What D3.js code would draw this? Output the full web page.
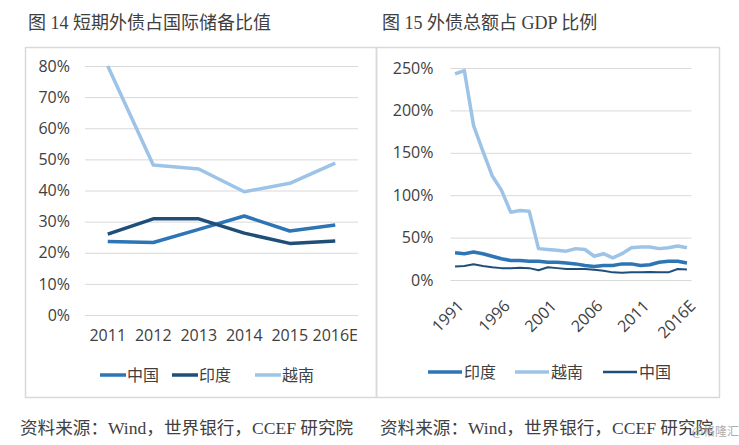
<!DOCTYPE html>
<html><head><meta charset="utf-8">
<script src="https://cdn.jsdelivr.net/npm/d3@7"></script>
<style>
body{margin:0;background:#fff;}
svg{display:block;}
</style></head>
<body>
<svg id="c" width="739" height="445"></svg>
<script>
// ---- Data ----
const leftCats = ["2011","2012","2013","2014","2015","2016E"];
const leftChina = [23.6, 23.3, 27.5, 31.8, 27.0, 28.9];
const leftIndia = [26.0, 30.9, 30.9, 26.3, 23.0, 23.8];
const leftVietnam = [80.0, 48.2, 46.9, 39.6, 42.3, 48.8];
const leftTicks = [0,10,20,30,40,50,60,70,80];

const rightCats = ["1991","1992","1993","1994","1995","1996","1997","1998","1999","2000","2001","2002","2003","2004","2005","2006","2007","2008","2009","2010","2011","2012","2013","2014","2015","2016E"];
const rightIndia = [32, 31, 33, 31, 28, 25, 23, 23, 22, 22, 21, 21, 20, 19, 17, 16, 17, 17, 19, 19, 17, 18, 21, 22, 22, 20];
const rightVietnam = [243, 247, 182, 152, 123, 106, 80, 82, 81, 37, 36, 35, 34, 37, 36, 28, 31, 26, 31, 38, 39, 39, 37, 38, 40, 38];
const rightChina = [16, 16.5, 18.5, 16.5, 15, 14, 14, 14.5, 14, 11.5, 15, 14, 13, 13, 13, 12, 11, 9, 8.5, 9, 9, 9.5, 9, 9, 13, 12.5];
const rightTicks = [0,50,100,150,200,250];
const rightLabelCats = ["1991","1996","2001","2006","2011","2016E"];

const C_MID = "#2e75b6", C_DARK = "#1f4e79", C_LIGHT = "#9dc3e6";

const svg = d3.select("#c");
svg.append("rect").attr("width",739).attr("height",445).attr("fill","#fff");

const tickFont = "'Open Sans', 'Noto Sans', sans-serif";
const cjkSans = "'Noto Sans CJK SC', 'Noto Sans', sans-serif";
const serif = "'Liberation Serif', 'Noto Sans CJK SC', serif";

// Titles
svg.append("text").attr("x",28).attr("y",29).attr("font-family",serif).attr("font-size",18).attr("fill","#404040").text("图 14 短期外债占国际储备比值");
svg.append("text").attr("x",382).attr("y",29).attr("font-family",serif).attr("font-size",18).attr("fill","#404040").text("图 15 外债总额占 GDP 比例");

// Frames
svg.append("rect").attr("x",25.5).attr("y",47.5).attr("width",351).attr("height",350).attr("fill","none").attr("stroke","#d9d9d9").attr("stroke-width",1.5);
svg.append("rect").attr("x",376.5).attr("y",47.5).attr("width",343).attr("height",350).attr("fill","none").attr("stroke","#d9d9d9").attr("stroke-width",1.5);

// Source texts
svg.append("text").attr("x",20).attr("y",434).attr("font-family",serif).attr("font-size",17.6).attr("fill","#404040").text("资料来源：Wind，世界银行，CCEF 研究院");
svg.append("text").attr("x",380).attr("y",434).attr("font-family",serif).attr("font-size",17.6).attr("fill","#404040").text("资料来源：Wind，世界银行，CCEF 研究院");
svg.append("text").attr("x",739).attr("y",436).attr("text-anchor","end").attr("font-family",cjkSans).attr("font-size",12).attr("fill","#999").attr("opacity",0.8).text("@格隆汇");

// ---- Left chart ----
{
  const x = d3.scaleBand().domain(leftCats).range([85,358]);
  const y = d3.scaleLinear().domain([0,80]).range([315,66]);
  const g = svg.append("g");
  const yAxis = d3.axisLeft(y).tickValues(leftTicks).tickSize(-(358-85)).tickFormat(d=>d+"%").tickPadding(15);
  const ya = g.append("g").attr("transform","translate(85,0)").call(yAxis);
  ya.select(".domain").remove();
  ya.selectAll("line").attr("stroke","#d9d9d9").attr("stroke-width",1);
  ya.selectAll("text").attr("font-family",tickFont).attr("font-size",16).attr("fill","#404040");
  const xAxis = d3.axisBottom(x).tickSize(0).tickPadding(8);
  const xa = g.append("g").attr("transform","translate(0,322)").call(xAxis);
  xa.select(".domain").remove();
  xa.selectAll("text").attr("font-family",tickFont).attr("font-size",16).attr("fill","#404040");
  const line = d3.line().x((d,i)=>x(leftCats[i])+x.bandwidth()/2).y(d=>y(d));
  const series = [
    {name:"中国", data:leftChina, color:C_MID, w:3.5},
    {name:"印度", data:leftIndia, color:C_DARK, w:3.5},
    {name:"越南", data:leftVietnam, color:C_LIGHT, w:3.5}
  ];
  series.forEach(s=>{
    g.append("path").attr("d",line(s.data)).attr("fill","none").attr("stroke",s.color).attr("stroke-width",s.w).attr("stroke-linejoin","round");
  });
  const legX = [100, 172, 255];
  series.forEach((s,i)=>{
    g.append("line").attr("x1",legX[i]).attr("x2",legX[i]+26).attr("y1",375).attr("y2",375).attr("stroke",s.color).attr("stroke-width",3.5);
    g.append("text").attr("x",legX[i]+27).attr("y",381).attr("font-family",cjkSans).attr("font-size",16).attr("fill","#404040").text(s.name);
  });
}

// ---- Right chart ----
{
  const x = d3.scaleBand().domain(rightCats).range([450.4,691.6]);
  const y = d3.scaleLinear().domain([0,250]).range([280,68]);
  const g = svg.append("g");
  const yAxis = d3.axisLeft(y).tickValues(rightTicks).tickSize(-(691.6-450.4)).tickFormat(d=>d+"%").tickPadding(17);
  const ya = g.append("g").attr("transform","translate(450.4,0)").call(yAxis);
  ya.select(".domain").remove();
  ya.selectAll("line").attr("stroke","#d9d9d9").attr("stroke-width",1);
  ya.selectAll("text").attr("font-family",tickFont).attr("font-size",16).attr("fill","#404040");
  const xAxis = d3.axisBottom(x).tickValues(rightLabelCats).tickSize(0).tickPadding(0);
  const xa = g.append("g").attr("transform","translate(0,296)").call(xAxis);
  xa.select(".domain").remove();
  xa.selectAll("text").attr("font-family",tickFont).attr("font-size",16).attr("fill","#404040")
    .attr("text-anchor","end").attr("dy",null).attr("y",0)
    .attr("transform","translate(" + (x.bandwidth()/2 + 5) + ",11) rotate(-45)");
  const line = d3.line().x((d,i)=>x(rightCats[i])+x.bandwidth()/2).y(d=>y(d));
  const series = [
    {name:"印度", data:rightIndia, color:C_MID, w:3.5},
    {name:"越南", data:rightVietnam, color:C_LIGHT, w:3.5},
    {name:"中国", data:rightChina, color:C_DARK, w:2}
  ];
  series.forEach(s=>{
    g.append("path").attr("d",line(s.data)).attr("fill","none").attr("stroke",s.color).attr("stroke-width",s.w).attr("stroke-linejoin","round");
  });
  const legX = [428, 515, 603];
  series.forEach((s,i)=>{
    g.append("line").attr("x1",legX[i]).attr("x2",legX[i]+34).attr("y1",372).attr("y2",372).attr("stroke",s.color).attr("stroke-width",s.w === 2 ? 2.5 : 3.5);
    g.append("text").attr("x",legX[i]+36).attr("y",378).attr("font-family",cjkSans).attr("font-size",16).attr("fill","#404040").text(s.name);
  });
}
</script>
</body></html>
